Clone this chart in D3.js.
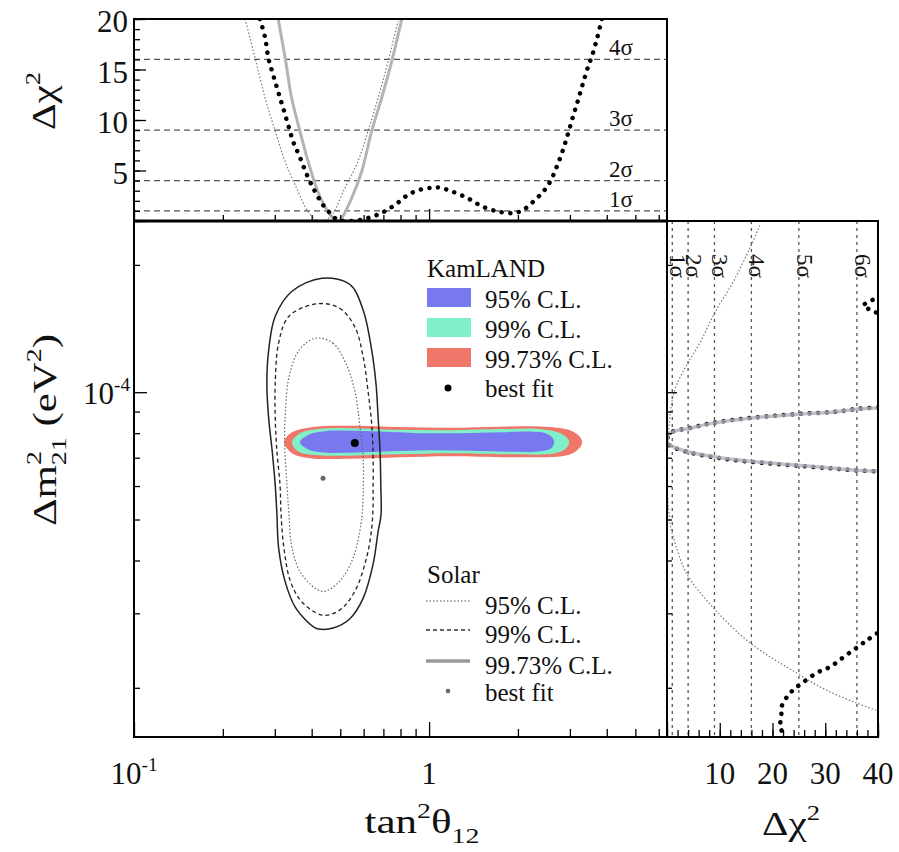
<!DOCTYPE html>
<html>
<head>
<meta charset="utf-8">
<script src="https://cdn.jsdelivr.net/npm/d3@7"></script>
<style>
  body { margin: 0; background: #fff; }
  #chart, #chart text, #chart tspan { font-family: "Liberation Serif", "DejaVu Serif", "Times New Roman", Times, serif; }
  #chart text { fill: #111; }
</style>
</head>
<body>
<svg id="chart" width="899" height="852" font-family="Liberation Serif, DejaVu Serif, serif"></svg>
<script>
// ---------------- data ----------------
const tanDomain = [0.1, 6.4];
const dmDomain = [1.53e-5, 2.54e-4];
const chiTopDomain = [0, 20];
const chiRightDomain = [0, 40];

const tanTicksMajor = [0.1, 1];
const tanTicksMinor = [0.2, 0.3, 0.4, 0.5, 0.6, 0.7, 0.8, 0.9, 2, 3, 4, 5, 6];
const tanTickLabels = ["10^-1", "1"];
const dmTicksMajor = [1e-4];
const dmTicksMinor = [2e-5, 3e-5, 4e-5, 5e-5, 6e-5, 7e-5, 8e-5, 9e-5, 2e-4];
const dmTickLabels = ["10^-4"];
const chiTopTicks = [5, 10, 15, 20];
const chiTopMajor = [0, 5, 10, 15, 20];
const chiRightTicks = [10, 20, 30, 40];
const chiRightMajor = [0, 10, 20, 30, 40];

const sigmaLevels = [1, 4, 9, 16, 25, 36];
const sigmaNames = ["1σ", "2σ", "3σ", "4σ", "5σ", "6σ"];

// KamLAND allowed regions [tan²θ12, Δm²21]
const kam9973 = [[0.3225,7.62e-5],[0.3432,8.04e-5],[0.411,8.29e-5],[0.540,8.33e-5],[0.797,8.27e-5],[1.178,8.24e-5],[1.741,8.29e-5],[2.572,8.27e-5],[3.053,8.09e-5],[3.250,7.83e-5],[3.301,7.62e-5],[3.225,7.37e-5],[2.960,7.10e-5],[2.034,7.02e-5],[1.178,7.06e-5],[0.797,7.02e-5],[0.540,6.96e-5],[0.395,6.98e-5],[0.3432,7.17e-5]];
const kam99 = [[0.3432,7.62e-5],[0.365,8.00e-5],[0.427,8.20e-5],[0.540,8.22e-5],[0.797,8.15e-5],[1.178,8.13e-5],[1.741,8.18e-5],[2.378,8.18e-5],[2.781,8.00e-5],[2.937,7.79e-5],[2.983,7.62e-5],[2.914,7.37e-5],[2.674,7.17e-5],[1.882,7.13e-5],[1.178,7.17e-5],[0.797,7.13e-5],[0.540,7.08e-5],[0.411,7.10e-5],[0.360,7.25e-5]];
const kam95 = [[0.365,7.62e-5],[0.395,7.96e-5],[0.444,8.09e-5],[0.540,8.11e-5],[0.682,8.07e-5],[0.932,8.00e-5],[1.274,8.00e-5],[1.741,8.04e-5],[2.199,8.07e-5],[2.473,8.00e-5],[2.612,7.83e-5],[2.653,7.62e-5],[2.592,7.37e-5],[2.378,7.25e-5],[1.882,7.23e-5],[1.377,7.27e-5],[1.008,7.29e-5],[0.738,7.25e-5],[0.540,7.19e-5],[0.427,7.21e-5],[0.389,7.33e-5]];
const kamBest = [0.56, 7.58e-5];

// Solar allowed regions [tan²θ12, Δm²21]
const solar9973 = [[0.434,1.86e-4],[0.538,1.80e-4],[0.598,1.563e-4],[0.639,1.257e-4],[0.661,1.044e-4],[0.672,8.68e-5],[0.682,7.25e-5],[0.686,6.03e-5],[0.687,5.12e-5],[0.672,4.69e-5],[0.646,3.92e-5],[0.598,3.26e-5],[0.538,2.91e-5],[0.473,2.77e-5],[0.430,2.75e-5],[0.408,2.78e-5],[0.353,3.09e-5],[0.325,3.57e-5],[0.309,4.29e-5],[0.305,5.15e-5],[0.301,6.03e-5],[0.294,7.25e-5],[0.286,8.68e-5],[0.282,1.044e-4],[0.286,1.257e-4],[0.301,1.512e-4],[0.343,1.733e-4]];
const solar99 = [[0.419,1.619e-4],[0.497,1.58e-4],[0.560,1.428e-4],[0.598,1.21e-4],[0.621,1.006e-4],[0.639,8.40e-5],[0.646,6.98e-5],[0.646,5.80e-5],[0.646,5.40e-5],[0.639,4.77e-5],[0.614,4.06e-5],[0.560,3.38e-5],[0.497,3.05e-5],[0.436,2.97e-5],[0.371,3.19e-5],[0.339,3.57e-5],[0.322,4.29e-5],[0.315,5.15e-5],[0.3125,6.03e-5],[0.305,7.25e-5],[0.301,8.68e-5],[0.301,1.044e-4],[0.309,1.306e-4],[0.335,1.512e-4]];
const solar95 = [[0.413,1.342e-4],[0.472,1.306e-4],[0.523,1.167e-4],[0.560,1.007e-4],[0.582,8.38e-5],[0.598,6.98e-5],[0.598,5.80e-5],[0.593,5.12e-5],[0.588,4.88e-5],[0.553,4.06e-5],[0.497,3.57e-5],[0.436,3.38e-5],[0.371,3.70e-5],[0.343,4.29e-5],[0.335,5.15e-5],[0.330,6.03e-5],[0.324,7.51e-5],[0.326,9.02e-5],[0.335,1.085e-4],[0.3625,1.257e-4]];
const solarBest = [0.437, 6.26e-5];

// Δχ² profiles versus tan²θ12
const kamTopTan = [0.267,0.278,0.285,0.296,0.308,0.320,0.333,0.346,0.365,0.389,0.411,0.437,0.468,0.491,0.548,0.621,0.691,0.767,0.849,0.932,1.021,1.090,1.178,1.342,1.525,1.741,1.956,2.083,2.252,2.434,2.572,2.710,2.846,2.960,3.077,3.200,3.327,3.459,3.561,3.703,3.849];
const kamTopChi = [20,18.2,16.2,14.5,12.8,11.2,9.5,7.9,6.3,4.3,2.9,1.6,0.6,0.1,0,0.3,0.8,1.6,2.6,3.1,3.3,3.3,3.0,2.3,1.4,0.9,0.8,1.1,1.9,2.9,3.9,5.4,7.1,8.7,10.4,12.0,13.7,15.3,16.3,18.0,20];
const solarTopTan = [0.238,0.257,0.278,0.301,0.325,0.360,0.389,0.415,0.437,0.468,0.519,0.574,0.621,0.672,0.726,0.785];
const solarTopChi = [20,16.2,12.2,8.9,5.9,2.9,0.9,0.1,0,0.6,3.3,5.9,8.9,12.2,15.8,19.8];
const combTopTan = [0.308,0.325,0.342,0.365,0.389,0.420,0.455,0.480,0.492,0.506,0.547,0.591,0.639,0.691,0.747,0.808];
const combTopChi = [20,16.2,12.2,8.9,5.9,2.9,0.9,0.1,0,0.3,2.3,4.9,8.9,12.2,15.8,20];

// Δχ² profiles versus Δm²21
const solarRightDm = [2.48e-4,2.19e-4,1.82e-4,1.546e-4,1.313e-4,1.158e-4,1.039e-4,9.47e-5,8.22e-5,7.2e-5,6.2e-5,5.3e-5,4.8e-5,4.54e-5,3.73e-5,3.10e-5,2.55e-5,2.17e-5,1.975e-5,1.84e-5,1.77e-5];
const solarRightChi = [17.6,15.7,12.5,9.1,6.3,3.7,1.8,0.9,0.35,0.1,0,0.3,0.7,1.2,3.7,8.7,15.8,24.5,30.2,36,39.6];
const combRightDm = [9.17e-5,9.12e-5,8.97e-5,8.87e-5,8.68e-5,8.45e-5,8.22e-5,8.0e-5,7.66e-5,7.49e-5,7.21e-5,7.02e-5,6.87e-5,6.72e-5,6.61e-5,6.54e-5,6.51e-5];
const combRightChi = [40,36,31.5,24.8,15.7,8.7,4.4,0.6,0,0.6,4.4,9.5,15.7,24.8,31.5,36,40];
const kamRightHookDm = [1.68e-4,1.64e-4,1.60e-4,1.565e-4,1.53e-4];
const kamRightHookChi = [40.5,38.4,37.2,38.6,40.3];
const kamRightCoreDm = [9.2e-5,9.13e-5,8.98e-5,8.88e-5,8.69e-5,8.46e-5,8.23e-5,8.0e-5,7.62e-5,7.47e-5,7.2e-5,7.0e-5,6.85e-5,6.7e-5,6.6e-5,6.53e-5,6.5e-5];
const kamRightCoreChi = [40,36,31.5,24.8,15.7,8.7,4.4,0.6,0,0.6,4.4,9.5,15.7,24.8,31.5,36,40];
const kamRightLowDm = [2.69e-5,2.59e-5,2.49e-5,2.36e-5,2.24e-5,2.17e-5,2.06e-5,1.975e-5,1.90e-5,1.80e-5,1.705e-5,1.614e-5,1.563e-5,1.53e-5];
const kamRightLowChi = [39.8,37.9,36.0,33.4,30.9,28.4,25.8,23.9,22.7,21.7,21.7,21.4,22.1,22.7];

// ---------------- layout ----------------
const SERIF = "Liberation Serif, DejaVu Serif, serif";
const svg = d3.select("#chart");
const pTop = { x0: 134, x1: 667, y0: 19, y1: 221 };
const pMain = { x0: 134, x1: 667, y0: 221, y1: 737 };
const pRight = { x0: 667, x1: 878, y0: 221, y1: 737 };

const x = d3.scaleLog().domain(tanDomain).range([pMain.x0, pMain.x1]);
const y = d3.scaleLog().domain(dmDomain).range([pMain.y1, pMain.y0]);
const yTop = d3.scaleLinear().domain(chiTopDomain).range([pTop.y1, pTop.y0]);
const xRight = d3.scaleLinear().domain(chiRightDomain).range([pRight.x0, pRight.x1]);

const zip = (a, b) => a.map((v, i) => [v, b[i]]);

const defs = svg.append("defs");
function clip(id, p) {
  defs.append("clipPath").attr("id", id).append("rect")
    .attr("x", p.x0).attr("y", p.y0).attr("width", p.x1 - p.x0).attr("height", p.y1 - p.y0);
}
clip("clipTop", pTop); clip("clipMain", pMain); clip("clipRight", pRight);

const COL_BLUE = "#7878f0", COL_CYAN = "#80f0c8", COL_RED = "#f0766a";

// ---------------- main panel ----------------
const gMain = svg.append("g").attr("clip-path", "url(#clipMain)");
const contour = d3.line().x(d => x(d[0])).y(d => y(d[1])).curve(d3.curveCatmullRomClosed.alpha(0.5));

gMain.append("path").attr("d", contour(kam9973)).attr("fill", COL_RED);
gMain.append("path").attr("d", contour(kam99)).attr("fill", COL_CYAN);
gMain.append("path").attr("d", contour(kam95)).attr("fill", COL_BLUE);

gMain.append("path").attr("d", contour(solar95)).attr("fill", "none")
  .attr("stroke", "#666").attr("stroke-width", 1.2).attr("stroke-dasharray", "1.5,2");
gMain.append("path").attr("d", contour(solar99)).attr("fill", "none")
  .attr("stroke", "#222").attr("stroke-width", 1.3).attr("stroke-dasharray", "4,3");
gMain.append("path").attr("d", contour(solar9973)).attr("fill", "none")
  .attr("stroke", "#222").attr("stroke-width", 1.5);

gMain.append("circle").attr("cx", x(kamBest[0])).attr("cy", y(kamBest[1])).attr("r", 4).attr("fill", "#000");
gMain.append("circle").attr("cx", x(solarBest[0])).attr("cy", y(solarBest[1])).attr("r", 2.5).attr("fill", "#666");

// ---------------- top panel: Δχ² vs tan²θ ----------------
const gTop = svg.append("g").attr("clip-path", "url(#clipTop)");
gTop.selectAll("line.lvl").data(sigmaLevels.filter(v => v <= chiTopDomain[1])).join("line")
  .attr("x1", pTop.x0).attr("x2", pTop.x1).attr("y1", d => yTop(d)).attr("y2", d => yTop(d))
  .attr("stroke", "#555").attr("stroke-width", 1.4).attr("stroke-dasharray", "6,4");

const topLine = d3.line().x(d => x(d[0])).y(d => yTop(d[1])).curve(d3.curveCatmullRom.alpha(0.5));
gTop.append("path").attr("d", topLine(zip(combTopTan, combTopChi))).attr("fill", "none")
  .attr("stroke", "#b4b4b8").attr("stroke-width", 3);
gTop.append("path").attr("d", topLine(zip(solarTopTan, solarTopChi))).attr("fill", "none")
  .attr("stroke", "#777").attr("stroke-width", 1.2).attr("stroke-dasharray", "1.5,2");
gTop.append("path").attr("d", topLine(zip(kamTopTan, kamTopChi))).attr("fill", "none")
  .attr("stroke", "#000").attr("stroke-width", 4.5).attr("stroke-linecap", "round")
  .attr("stroke-dasharray", "0.1,8.5");

svg.append("g").selectAll("text").data(sigmaLevels.filter(v => v <= chiTopDomain[1])).join("text")
  .attr("x", pTop.x1 - 58).attr("y", d => yTop(d) - 4)
  .attr("font-family", SERIF).attr("font-size", 23).text((d, i) => sigmaNames[i]);

// ---------------- right panel: Δχ² vs Δm² ----------------
const gRight = svg.append("g").attr("clip-path", "url(#clipRight)");
gRight.selectAll("line.lvl").data(sigmaLevels).join("line")
  .attr("x1", d => xRight(d)).attr("x2", d => xRight(d)).attr("y1", pRight.y0).attr("y2", pRight.y1)
  .attr("stroke", "#555").attr("stroke-width", 1.3).attr("stroke-dasharray", "3,4");

const rightLine = d3.line().x(d => xRight(d[1])).y(d => y(d[0])).curve(d3.curveCatmullRom.alpha(0.5));
const kamDots = sel => sel.attr("fill", "none").attr("stroke", "#000").attr("stroke-width", 4.5)
  .attr("stroke-linecap", "round").attr("stroke-dasharray", "0.1,8.5");
gRight.append("path").attr("d", rightLine(zip(solarRightDm, solarRightChi))).attr("fill", "none")
  .attr("stroke", "#777").attr("stroke-width", 1.2).attr("stroke-dasharray", "1.5,2");
gRight.append("path").attr("d", rightLine(zip(kamRightHookDm, kamRightHookChi))).call(kamDots);
gRight.append("path").attr("d", rightLine(zip(kamRightLowDm, kamRightLowChi))).call(kamDots);
gRight.append("path").attr("d", rightLine(zip(kamRightCoreDm, kamRightCoreChi))).call(kamDots);
gRight.append("path").attr("d", rightLine(zip(combRightDm, combRightChi))).attr("fill", "none")
  .attr("stroke", "#b0b0bc").attr("stroke-width", 3.5).attr("opacity", 0.8);

svg.append("g").selectAll("text").data(sigmaLevels).join("text")
  .attr("transform", d => `translate(${xRight(d) + 6},266) rotate(90)`)
  .attr("text-anchor", "middle").attr("dy", "0.35em")
  .attr("font-family", SERIF).attr("font-size", 23).text((d, i) => sigmaNames[i]);

// ---------------- legends ----------------
const lg = svg.append("g").attr("font-family", SERIF).attr("font-size", 25);
lg.append("text").attr("x", 427).attr("y", 277).text("KamLAND");
const kamLegend = [
  { c: COL_BLUE, t: "95% C.L.", y: 288 },
  { c: COL_CYAN, t: "99% C.L.", y: 318 },
  { c: COL_RED, t: "99.73% C.L.", y: 348 }
];
kamLegend.forEach(d => {
  lg.append("rect").attr("x", 427).attr("y", d.y).attr("width", 44).attr("height", 19).attr("fill", d.c);
  lg.append("text").attr("x", 485).attr("y", d.y + 20).text(d.t);
});
lg.append("circle").attr("cx", 448).attr("cy", 388).attr("r", 3.5).attr("fill", "#000");
lg.append("text").attr("x", 485).attr("y", 397).text("best fit");

lg.append("text").attr("x", 427).attr("y", 583).text("Solar");
const solarLegend = [
  { t: "95% C.L.", y: 601, s: "#888", w: 1.3, dash: "1.5,2" },
  { t: "99% C.L.", y: 630, s: "#333", w: 1.3, dash: "4,3" },
  { t: "99.73% C.L.", y: 661, s: "#999", w: 3.5, dash: null }
];
solarLegend.forEach(d => {
  lg.append("line").attr("x1", 426).attr("x2", 470).attr("y1", d.y).attr("y2", d.y)
    .attr("stroke", d.s).attr("stroke-width", d.w).attr("stroke-dasharray", d.dash);
  lg.append("text").attr("x", 485).attr("y", d.y + 13).text(d.t);
});
lg.append("circle").attr("cx", 448).attr("cy", 691).attr("r", 2.3).attr("fill", "#666");
lg.append("text").attr("x", 485).attr("y", 701).text("best fit");

// ---------------- axes (ticks) ----------------
function ticks(axis, tx, ty) {
  const g = svg.append("g").attr("transform", `translate(${tx},${ty})`).call(axis);
  g.select(".domain").remove();
  g.selectAll("line").attr("stroke", "#000").attr("stroke-width", 1.3);
  g.selectAll("text").remove();
}
// main x
ticks(d3.axisBottom(x).tickValues(tanTicksMajor).tickSizeInner(-15).tickSizeOuter(0), 0, pMain.y1);
ticks(d3.axisBottom(x).tickValues(tanTicksMinor).tickSizeInner(-8).tickSizeOuter(0), 0, pMain.y1);
// top panel x (bottom edge)
ticks(d3.axisBottom(x).tickValues(tanTicksMajor).tickSizeInner(-12).tickSizeOuter(0), 0, pTop.y1);
ticks(d3.axisBottom(x).tickValues(tanTicksMinor).tickSizeInner(-6).tickSizeOuter(0), 0, pTop.y1);
// main y
ticks(d3.axisLeft(y).tickValues(dmTicksMajor).tickSizeInner(-13).tickSizeOuter(0), pMain.x0, 0);
ticks(d3.axisLeft(y).tickValues(dmTicksMinor).tickSizeInner(-6).tickSizeOuter(0), pMain.x0, 0);
// right panel y (left edge)
ticks(d3.axisLeft(y).tickValues(dmTicksMajor).tickSizeInner(-10).tickSizeOuter(0), pRight.x0, 0);
ticks(d3.axisLeft(y).tickValues(dmTicksMinor).tickSizeInner(-5).tickSizeOuter(0), pRight.x0, 0);
// top panel y
ticks(d3.axisLeft(yTop).tickValues(chiTopMajor).tickSizeInner(-12).tickSizeOuter(0), pTop.x0, 0);
ticks(d3.axisLeft(yTop).tickValues(yTop.ticks(20)).tickSizeInner(-6).tickSizeOuter(0), pTop.x0, 0);
// right panel x
ticks(d3.axisBottom(xRight).tickValues(chiRightMajor).tickSizeInner(-14).tickSizeOuter(0), 0, pRight.y1);
ticks(d3.axisBottom(xRight).tickValues(xRight.ticks(20)).tickSizeInner(-7).tickSizeOuter(0), 0, pRight.y1);

// ---------------- frames ----------------
[pTop, pMain, pRight].forEach(p => {
  svg.append("rect").attr("x", p.x0).attr("y", p.y0).attr("width", p.x1 - p.x0).attr("height", p.y1 - p.y0)
    .attr("fill", "none").attr("stroke", "#000").attr("stroke-width", 2);
});
svg.append("line").attr("x1", pTop.x0).attr("x2", pTop.x1).attr("y1", pTop.y1).attr("y2", pTop.y1)
  .attr("stroke", "#000").attr("stroke-width", 3);

// ---------------- tick labels ----------------
const TICK_FS = 31;
function powerLabel(sel, str, fs) {
  const parts = str.split("^");
  sel.append("tspan").text(parts[0]);
  if (parts[1]) sel.append("tspan").attr("dy", -0.42 * fs).attr("font-size", fs * 0.62).text(parts[1]);
}
const labels = svg.append("g").attr("font-family", SERIF);
tanTicksMajor.forEach((v, i) => {
  const t = labels.append("text").attr("x", x(v)).attr("y", 784).attr("text-anchor", "middle").attr("font-size", TICK_FS);
  powerLabel(t, tanTickLabels[i], TICK_FS);
});
dmTicksMajor.forEach((v, i) => {
  const t = labels.append("text").attr("x", pMain.x0 - 4).attr("y", y(v) + 12).attr("text-anchor", "end").attr("font-size", TICK_FS);
  powerLabel(t, dmTickLabels[i], TICK_FS);
});
labels.append("g").selectAll("text").data(chiTopTicks).join("text")
  .attr("x", pTop.x0 - 6).attr("y", d => yTop(d) + 13).attr("text-anchor", "end")
  .attr("font-size", TICK_FS).text(d => d);
labels.append("g").selectAll("text").data(chiRightTicks).join("text")
  .attr("x", d => xRight(d)).attr("y", 784).attr("text-anchor", "middle")
  .attr("font-size", TICK_FS).text(d => d);

// ---------------- axis titles ----------------
const TITLE_FS = 33;
const titles = svg.append("g").attr("font-family", SERIF);
// tan²θ12
{
  const t = titles.append("text").attr("x", 422).attr("y", 833).attr("text-anchor", "middle")
    .attr("font-size", TITLE_FS).attr("textLength", 115).attr("lengthAdjust", "spacingAndGlyphs");
  t.append("tspan").text("tan");
  t.append("tspan").attr("dy", -0.45 * TITLE_FS).attr("font-size", TITLE_FS * 0.65).text("2");
  t.append("tspan").attr("dy", 0.45 * TITLE_FS).text("θ");
  t.append("tspan").attr("dy", 0.3 * TITLE_FS).attr("font-size", TITLE_FS * 0.65).text("12");
}
// Δχ² (right panel)
{
  const t = titles.append("text").attr("x", 791).attr("y", 835).attr("text-anchor", "middle")
    .attr("font-size", TITLE_FS).attr("textLength", 58).attr("lengthAdjust", "spacingAndGlyphs");
  t.append("tspan").text("Δχ");
  t.append("tspan").attr("dy", -0.45 * TITLE_FS).attr("font-size", TITLE_FS * 0.65).text("2");
}
// Δχ² (top panel)
{
  const t = titles.append("text").attr("transform", "translate(55,101) rotate(-90)").attr("text-anchor", "middle")
    .attr("font-size", TITLE_FS).attr("textLength", 58).attr("lengthAdjust", "spacingAndGlyphs");
  t.append("tspan").text("Δχ");
  t.append("tspan").attr("dy", -0.45 * TITLE_FS).attr("font-size", TITLE_FS * 0.65).text("2");
}
// Δm²21 (eV²)
{
  const fs = TITLE_FS;
  const t = titles.append("text").attr("transform", "translate(56,430) rotate(-90)").attr("text-anchor", "middle")
    .attr("font-size", fs).attr("textLength", 192).attr("lengthAdjust", "spacingAndGlyphs");
  t.append("tspan").text("Δm");
  t.append("tspan").attr("dy", -0.45 * fs).attr("font-size", fs * 0.65).text("2");
  t.append("tspan").attr("dx", -0.33 * fs).attr("dy", 0.75 * fs).attr("font-size", fs * 0.65).text("21");
  t.append("tspan").attr("dy", -0.3 * fs).text(" (eV");
  t.append("tspan").attr("dy", -0.45 * fs).attr("font-size", fs * 0.65).text("2");
  t.append("tspan").attr("dy", 0.45 * fs).text(")");
}
</script>
</body>
</html>
